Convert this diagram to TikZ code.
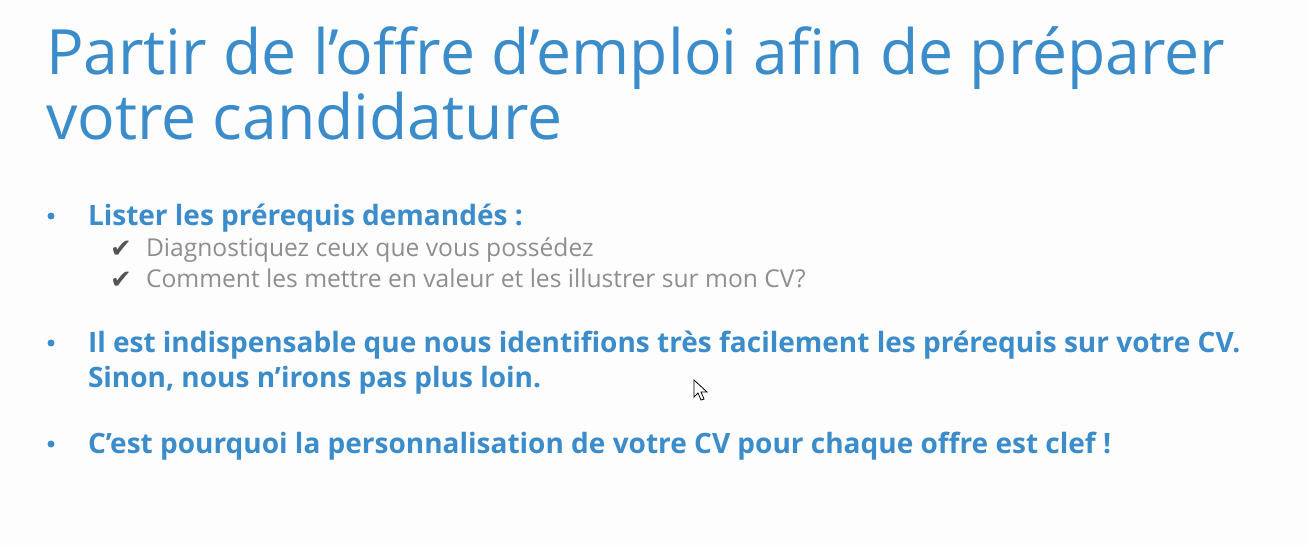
\documentclass[tikz,border=0pt]{standalone}
\usepackage{fontspec}
\setmainfont{Open Sans}
\newfontfamily\symfont{DejaVu Sans}
\definecolor{tblue}{HTML}{3B8CCA}
\definecolor{sgray}{HTML}{8E8E8E}
\definecolor{cgray}{HTML}{555555}
\definecolor{bg}{HTML}{FDFDFD}
\begin{document}
\begin{tikzpicture}[x=1pt,y=-1pt,
  every node/.style={inner sep=0pt,outer sep=0pt,anchor=base west},
  titletext/.style={text=tblue,font=\fontsize{62.5}{65}\selectfont},
  maintext/.style={text=tblue,font=\fontsize{28}{36}\selectfont\bfseries},
  subtext/.style={text=sgray,font=\fontsize{24.6}{30}\selectfont},
  bulletdot/.style={circle,fill=tblue,minimum size=7pt,anchor=center},
  checkmark/.style={text=cgray,font=\fontsize{26}{30}\selectfont\symfont}]
\fill[bg] (0,0) rectangle (1308,546);
\useasboundingbox (0,0) rectangle (1308,546);
% title
\node[titletext] (t1) at (46,74) {Partir de l’offre d’emploi afin de préparer};
\node[titletext] (t2) at (46,139) {votre candidature};
% bullet 1
\node[bulletdot] (b1) at (51,216) {};
\node[maintext] (l1) at (88,225) {Lister les prérequis demandés :};
\node[checkmark] (c1) at (110,257) {✔};
\node[subtext] (s1) at (146,256) {Diagnostiquez ceux que vous possédez};
\node[checkmark] (c2) at (110,288) {✔};
\node[subtext] (s2) at (146,287) {Comment les mettre en valeur et les illustrer sur mon CV?};
% bullet 2
\node[bulletdot] (b2) at (51,343) {};
\node[maintext] (l2) at (88,352) {Il est indispensable que nous identifions très facilement les prérequis sur votre CV.};
\node[maintext] (l3) at (88,387) {Sinon, nous n’irons pas plus loin.};
% bullet 3
\node[bulletdot] (b3) at (51,444) {};
\node[maintext] (l4) at (88,453) {C’est pourquoi la personnalisation de votre CV pour chaque offre est clef !};
% mouse cursor
\draw[black,fill=white,line width=0.8pt,line join=miter]
  (694,380) -- (694,397) -- (698,393) -- (701,400) -- (704,399) -- (701,392) -- (707,392) -- cycle;
\end{tikzpicture}
\end{document}
